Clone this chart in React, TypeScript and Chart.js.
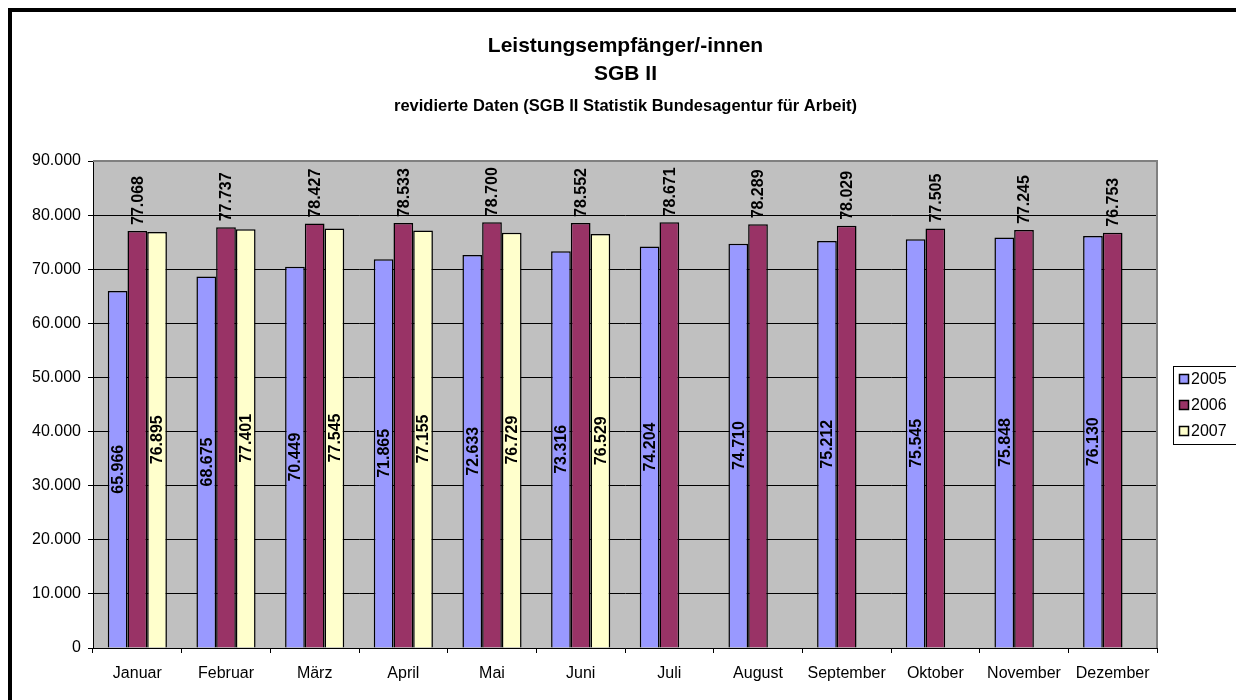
import React, { useEffect, useRef } from 'react';
import { Chart, registerables } from 'chart.js';

Chart.register(...registerables);

const months = ['Januar', 'Februar', 'März', 'April', 'Mai', 'Juni', 'Juli', 'August', 'September', 'Oktober', 'November', 'Dezember'];
const values2005 = [65966, 68675, 70449, 71865, 72633, 73316, 74204, 74710, 75212, 75545, 75848, 76130];
const values2006 = [77068, 77737, 78427, 78533, 78700, 78552, 78671, 78289, 78029, 77505, 77245, 76753];
const values2007 = [76895, 77401, 77545, 77155, 76729, 76529, null, null, null, null, null, null];
const seriesLabels = ['2005', '2006', '2007'];
const seriesColors = ['#9999FF', '#993366', '#FFFFCC'];
const titleLines = ['Leistungsempfänger/-innen', 'SGB II'];
const subtitleText = 'revidierte Daten (SGB II Statistik Bundesagentur für Arbeit)';
const yMin = 0;
const yMax = 90000;
const yStep = 10000;

const FONT = '"Liberation Sans", Arial, sans-serif';

function fmt(v: number): string {
  const s = Math.round(v).toString();
  return s.replace(/\B(?=(\d{3})+(?!\d))/g, '.');
}

const W = 1235;
const H = 692;

const bgPlugin = {
  id: 'plotBg',
  beforeDraw(chart: any) {
    const { ctx, chartArea } = chart;
    ctx.save();
    ctx.fillStyle = '#C0C0C0';
    ctx.fillRect(chartArea.left, chartArea.top, chartArea.right - chartArea.left, chartArea.bottom - chartArea.top);
    ctx.restore();
  },
};

const labelPlugin = {
  id: 'barLabels',
  afterDatasetsDraw(chart: any) {
    const { ctx } = chart;
    ctx.save();
    ctx.font = `bold 16px ${FONT}`;
    ctx.fillStyle = '#000';
    chart.data.datasets.forEach((ds: any, di: number) => {
      const meta = chart.getDatasetMeta(di);
      meta.data.forEach((bar: any, i: number) => {
        const v = ds.data[i];
        if (v === null || v === undefined) return;
        const { x, y, base } = bar.getProps(['x', 'y', 'base'], true);
        ctx.save();
        if (di === 1) {
          ctx.translate(x, y - 6);
          ctx.rotate(-Math.PI / 2);
          ctx.textAlign = 'left';
          ctx.textBaseline = 'middle';
          ctx.fillText(fmt(v), 0, 1);
        } else {
          ctx.translate(x, (y + base) / 2);
          ctx.rotate(-Math.PI / 2);
          ctx.textAlign = 'center';
          ctx.textBaseline = 'middle';
          ctx.fillText(fmt(v), 0, 1);
        }
        ctx.restore();
      });
    });
    ctx.restore();
  },
};

const borderLegendPlugin = {
  id: 'borderLegend',
  afterDraw(chart: any) {
    const { ctx, chartArea } = chart;
    ctx.save();
    // gray plot border top/right
    ctx.strokeStyle = '#808080';
    ctx.lineWidth = 2;
    ctx.beginPath();
    ctx.moveTo(chartArea.left, chartArea.top);
    ctx.lineTo(chartArea.right, chartArea.top);
    ctx.lineTo(chartArea.right, chartArea.bottom);
    ctx.stroke();

    // legend
    const cy = (chartArea.top + chartArea.bottom) / 2;
    const rowH = 26;
    const n = chart.data.datasets.length;
    const boxL = chartArea.right + 16;
    const boxW = 64;
    const boxH = rowH * n;
    const boxT = cy - boxH / 2;
    ctx.strokeStyle = '#000';
    ctx.lineWidth = 1;
    ctx.strokeRect(Math.round(boxL) + 0.5, Math.round(boxT) + 0.5, boxW, boxH);
    ctx.font = `16px ${FONT}`;
    ctx.textBaseline = 'middle';
    ctx.textAlign = 'left';
    chart.data.datasets.forEach((ds: any, i: number) => {
      const ry = boxT + rowH / 2 + i * rowH;
      const sx = Math.round(boxL + 6);
      const sy = Math.round(ry - 5);
      ctx.fillStyle = ds.backgroundColor;
      ctx.fillRect(sx, sy, 10, 10);
      ctx.strokeStyle = '#000';
      ctx.lineWidth = 1.5;
      ctx.strokeRect(sx + 0.5, sy + 0.5, 9, 9);
      ctx.fillStyle = '#000';
      ctx.fillText(ds.label, boxL + 18, ry + 1);
    });
    ctx.restore();
  },
};

export default function App() {
  const ref = useRef<HTMLCanvasElement | null>(null);

  useEffect(() => {
    if (!ref.current) return;
    Chart.defaults.font.family = FONT;
    const series = [values2005, values2006, values2007];
    const chart = new Chart(ref.current, {
      type: 'bar',
      data: {
        labels: months,
        datasets: series.map((d, i) => ({
          label: seriesLabels[i],
          data: d,
          backgroundColor: seriesColors[i],
          borderColor: '#000',
          borderWidth: 1.5,
          borderSkipped: 'bottom',
          categoryPercentage: 0.667,
          barPercentage: 1.0,
          yAxisID: 'y',
        })),
      },
      options: {
        responsive: false,
        animation: false,
        devicePixelRatio: 1,
        layout: { padding: { left: 0, right: 0, top: 0, bottom: 0 } },
        plugins: {
          legend: { display: false },
          tooltip: { enabled: false },
          title: {
            display: true,
            text: titleLines,
            color: '#000',
            font: { size: 21, weight: 'bold', family: FONT, lineHeight: '28px' },
            padding: { top: 24, bottom: 0 },
          },
          subtitle: {
            display: true,
            text: subtitleText,
            color: '#000',
            font: { size: 16.5, weight: 'bold', family: FONT, lineHeight: '18px' },
            padding: { top: 9.5, bottom: 45.5 },
          },
        },
        scales: {
          x: {
            grid: {
              display: true,
              drawOnChartArea: false,
              drawTicks: true,
              tickLength: 5,
              color: '#000',
              offset: true,
            },
            border: { display: true, color: '#000', width: 1 },
            ticks: { color: '#000', font: { size: 16, family: FONT }, padding: 11, maxRotation: 0, autoSkip: false },
            afterFit(scale: any) {
              scale.height = 52;
            },
          },
          y: {
            min: yMin,
            max: yMax,
            grid: { color: '#000', drawTicks: true, tickLength: 5, lineWidth: 1 },
            border: { display: true, color: '#000', width: 1 },
            ticks: {
              stepSize: yStep,
              color: '#000',
              font: { size: 16, family: FONT },
              padding: 7,
              callback: (v: any) => fmt(Number(v)),
            },
            afterFit(scale: any) {
              scale.width = 85;
            },
          },
          legendSpace: {
            type: 'linear',
            position: 'right',
            display: true,
            grid: { display: false, drawTicks: false },
            border: { display: false },
            ticks: { display: false },
            afterFit(scale: any) {
              scale.width = 86;
            },
          },
        },
      },
      plugins: [bgPlugin, labelPlugin, borderLegendPlugin],
    });
    return () => chart.destroy();
  }, []);

  return (
    <div style={{ position: 'relative', width: W, height: H, background: '#fff' }}>
      <canvas ref={ref} width={W} height={H} style={{ display: 'block', width: W, height: H }} />
      <div
        style={{
          position: 'absolute',
          left: 0,
          top: 0,
          width: W,
          height: H,
          boxSizing: 'border-box',
          borderLeft: '4px solid #000',
          borderTop: '4px solid #000',
          borderRight: '1px solid #000',
          pointerEvents: 'none',
        }}
      />
    </div>
  );
}
